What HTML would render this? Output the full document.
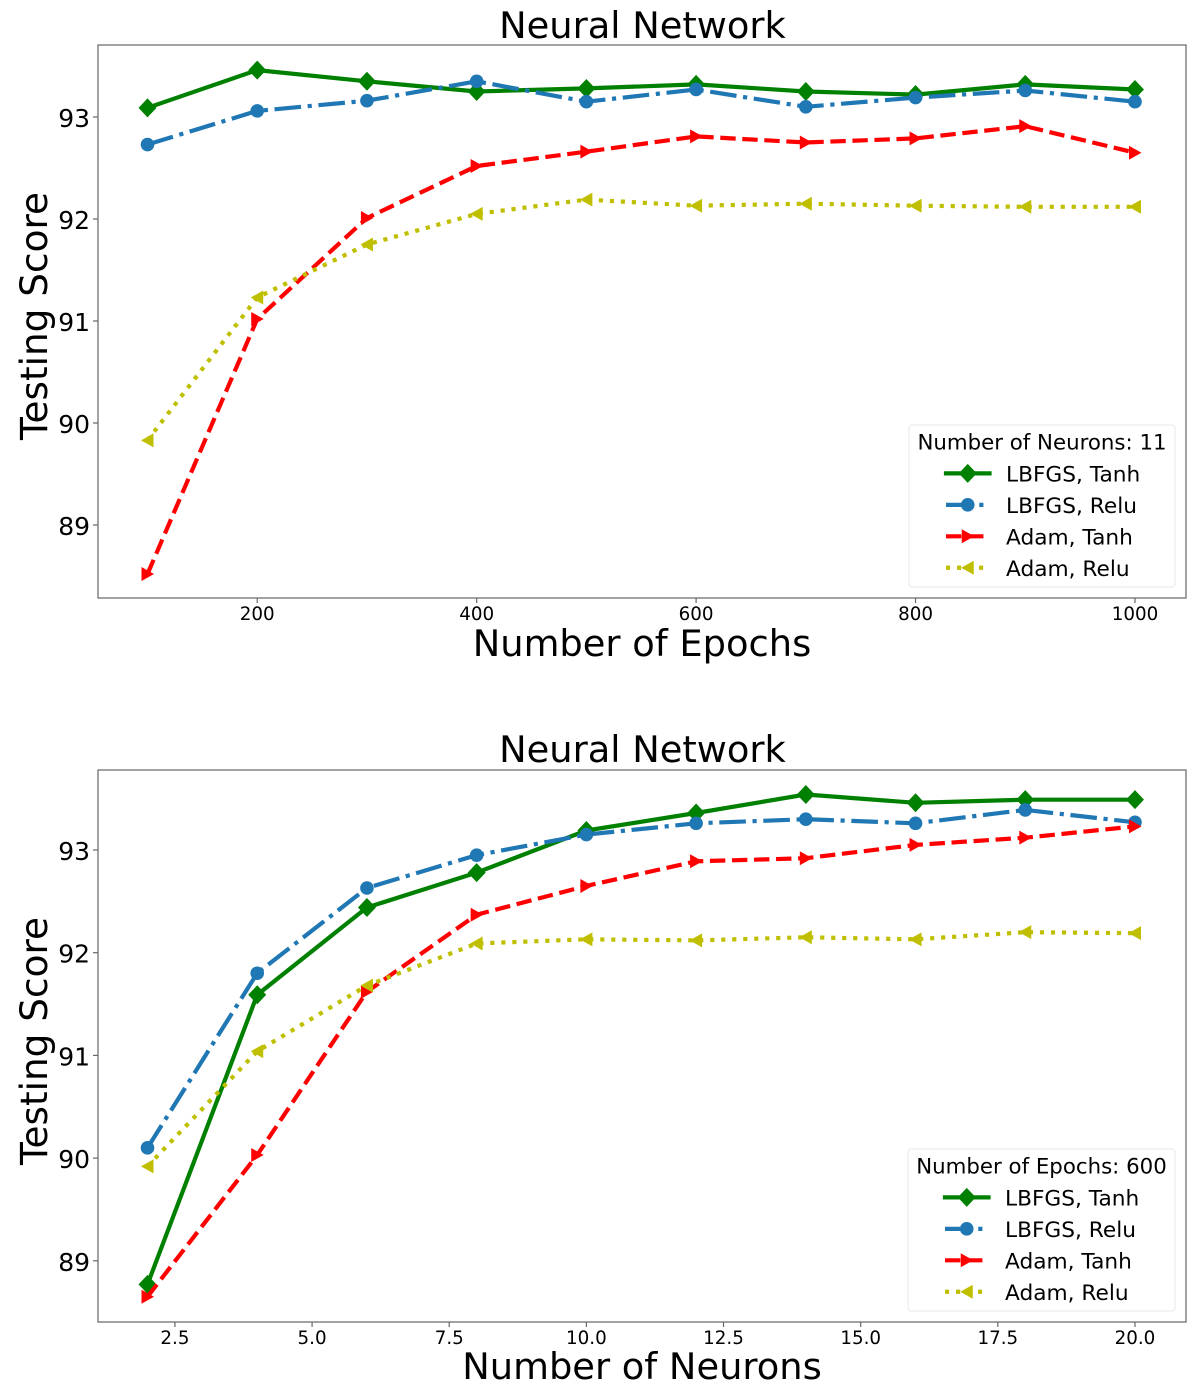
<!DOCTYPE html>
<html>
<head>
<meta charset="utf-8">
<style>
html,body{margin:0;padding:0;background:#fff;}
svg{display:block;filter:blur(0.35px);}
text{font-family:"DejaVu Sans","Liberation Sans",sans-serif;fill:#000;}
</style>
</head>
<body>
<svg id="fig" xmlns="http://www.w3.org/2000/svg" width="1200" height="1389" viewBox="0 0 1200 1389"></svg>
<script>
// Top chart data
const epochs = [100,200,300,400,500,600,700,800,900,1000];
const epochsLbfgsTanh = [93.09,93.46,93.35,93.25,93.28,93.32,93.25,93.22,93.32,93.27];
const epochsLbfgsRelu = [92.73,93.06,93.16,93.35,93.15,93.27,93.10,93.19,93.26,93.15];
const epochsAdamTanh = [88.52,91.02,92.01,92.52,92.66,92.81,92.75,92.79,92.91,92.65];
const epochsAdamRelu = [89.83,91.23,91.75,92.05,92.19,92.13,92.15,92.13,92.12,92.12];
const epochsXTicks = [200,400,600,800,1000];
const epochsXTickLabels = ["200","400","600","800","1000"];
// Bottom chart data
const neurons = [2,4,6,8,10,12,14,16,18,20];
const neuronsLbfgsTanh = [88.77,91.59,92.44,92.78,93.19,93.36,93.54,93.46,93.49,93.49];
const neuronsLbfgsRelu = [90.10,91.80,92.63,92.95,93.15,93.26,93.30,93.26,93.39,93.27];
const neuronsAdamTanh = [88.65,90.03,91.62,92.37,92.65,92.89,92.92,93.05,93.12,93.23];
const neuronsAdamRelu = [89.92,91.04,91.68,92.09,92.13,92.12,92.15,92.13,92.20,92.19];
const neuronsXTicks = [2.5,5,7.5,10,12.5,15,17.5,20];
const neuronsXTickLabels = ["2.5","5.0","7.5","10.0","12.5","15.0","17.5","20.0"];
// Shared
const yTicks = [89,90,91,92,93];
const yTickLabels = ["89","90","91","92","93"];
const seriesNames = ["LBFGS, Tanh","LBFGS, Relu","Adam, Tanh","Adam, Relu"];

const NS = "http://www.w3.org/2000/svg";
const fig = document.getElementById("fig");
const LW = 4.2;
const styles = [
  {color:"#008000",dash:"",marker:"diamond",key:"lbfgs-tanh"},
  {color:"#1f77b4",dash:"26.6 6.65 4.15 6.65",marker:"circle",key:"lbfgs-relu"},
  {color:"#ff0000",dash:"15.4 6.65",marker:"right",key:"adam-tanh"},
  {color:"#bfbf00",dash:"4.15 6.85",marker:"left",key:"adam-relu"}
];

function make(parent, tag, attrs){
  const el = document.createElementNS(NS, tag);
  for(const k in attrs){ el.setAttribute(k, attrs[k]); }
  parent.appendChild(el);
  return el;
}
function drawMarker(parent, kind, x, y, color){
  let el;
  if(kind === "diamond"){
    el = make(parent,"polygon",{points:[x,y-9.5,x+9,y,x,y+9.5,x-9,y].join(" "),fill:color});
  } else if(kind === "circle"){
    el = make(parent,"circle",{cx:x,cy:y,r:6.8,fill:color});
  } else if(kind === "right"){
    el = make(parent,"polygon",{points:[x+6.5,y,x-6,y-7,x-6,y+7].join(" "),fill:color});
  } else {
    el = make(parent,"polygon",{points:[x-6.5,y,x+6,y-7,x+6,y+7].join(" "),fill:color});
  }
  return el;
}
function label(parent, str, attrs){
  const t = make(parent,"text",attrs);
  t.textContent = str;
  return t;
}

function drawChart(cfg){
  const g = make(fig,"g",{});
  
  
  const L=98, R=1186, T=cfg.top, B=cfg.bottom;
  const xScale = v => cfg.x0 + (v - cfg.xv0) * cfg.xk;
  const yScale = v => cfg.y93 + (93 - v) * cfg.yk;

  const title = label(g,"Neural Network",{x:642.5,y:cfg.titleY,"text-anchor":"middle","font-size":36.8});
  
  

  const xlab = label(g,cfg.xLabel,{x:642,y:cfg.xLabelY,"text-anchor":"middle","font-size":36.8});
  
  

  const ylab = label(g,"Testing Score",{x:0,y:0,"text-anchor":"middle","font-size":37.4,transform:"translate(47,"+cfg.yLabelY+") rotate(-90)"});
  
  

  cfg.xTicks.forEach(function(v,i){
    const x = xScale(v);
    const tk = make(g,"line",{x1:x,x2:x,y1:B,y2:B+5,stroke:"#666","stroke-width":1.2});
    
    
    const tl = label(g,cfg.xTickLabels[i],{x:x,y:B+22,"text-anchor":"middle","font-size":18.3});
    
    
  });
  yTicks.forEach(function(v,i){
    const y = yScale(v);
    const tk = make(g,"line",{x1:L-5,x2:L,y1:y,y2:y,stroke:"#666","stroke-width":1.2});
    
    
    const tl = label(g,yTickLabels[i],{x:L-8,y:y+10,"text-anchor":"end","font-size":25});
    
    
  });

  cfg.series.forEach(function(vals,si){
    const st = styles[si];
    const sg = make(g,"g",{});
    
    
    const pts = cfg.xs.map(function(xv,i){ return xScale(xv).toFixed(1)+","+yScale(vals[i]).toFixed(1); }).join(" ");
    const pl = make(sg,"polyline",{points:pts,fill:"none",stroke:st.color,"stroke-width":LW,"stroke-linejoin":"round"});
    if(st.dash){ pl.setAttribute("stroke-dasharray",st.dash); }
    
    
    cfg.xs.forEach(function(xv,i){
      const m = drawMarker(sg,st.marker,xScale(xv),yScale(vals[i]),st.color);
      
      
    });
  });

  const frame = make(g,"rect",{x:L,y:T,width:R-L,height:B-T,fill:"none",stroke:"#707070","stroke-width":1.3});
  
  

  // Legend
  const lg = make(g,"g",{});
  
  
  const box = make(lg,"rect",{x:cfg.legX,y:cfg.legY,width:cfg.legW,height:162,rx:3,ry:3,fill:"#fff","fill-opacity":0.85,stroke:"#e8e8e8","stroke-width":1});
  
  
  const lt = label(lg,cfg.legTitle,{x:cfg.legX+cfg.legW/2,y:cfg.legY+24.5,"text-anchor":"middle","font-size":21.3});
  
  
  styles.forEach(function(st,i){
    const ey = cfg.legY + 48.4 + i*31.45;
    const eg = make(lg,"g",{});
    
    
    const x1 = cfg.legSwatchX, x2 = x1 + 43.5;
    const ln = make(eg,"line",{x1:x1,x2:x2,y1:ey,y2:ey,stroke:st.color,"stroke-width":LW});
    if(st.dash){ ln.setAttribute("stroke-dasharray",st.dash); } else { ln.setAttribute("stroke-linecap","square"); }
    drawMarker(eg,st.marker,(x1+x2)/2,ey,st.color);
    const et = label(eg,seriesNames[i],{x:x1+60,y:ey+8,"font-size":21.7});
    
    
  });
}

drawChart({
  name:"epochs-chart",top:45,bottom:598,
  xs:epochs,series:[epochsLbfgsTanh,epochsLbfgsRelu,epochsAdamTanh,epochsAdamRelu],
  x0:147.5,xv0:100,xk:1.0972,y93:117,yk:102,
  xTicks:epochsXTicks,xTickLabels:epochsXTickLabels,
  xLabel:"Number of Epochs",titleY:38,xLabelY:656,yLabelY:316,
  legTitle:"Number of Neurons: 11",legX:909,legY:425,legW:266,legSwatchX:946
});
drawChart({
  name:"neurons-chart",top:770,bottom:1322,
  xs:neurons,series:[neuronsLbfgsTanh,neuronsLbfgsRelu,neuronsAdamTanh,neuronsAdamRelu],
  x0:147.5,xv0:2,xk:54.86,y93:850,yk:102.7,
  xTicks:neuronsXTicks,xTickLabels:neuronsXTickLabels,
  xLabel:"Number of Neurons",titleY:762,xLabelY:1379,yLabelY:1041,
  legTitle:"Number of Epochs: 600",legX:908,legY:1149,legW:267,legSwatchX:945
});
</script>
</body>
</html>
